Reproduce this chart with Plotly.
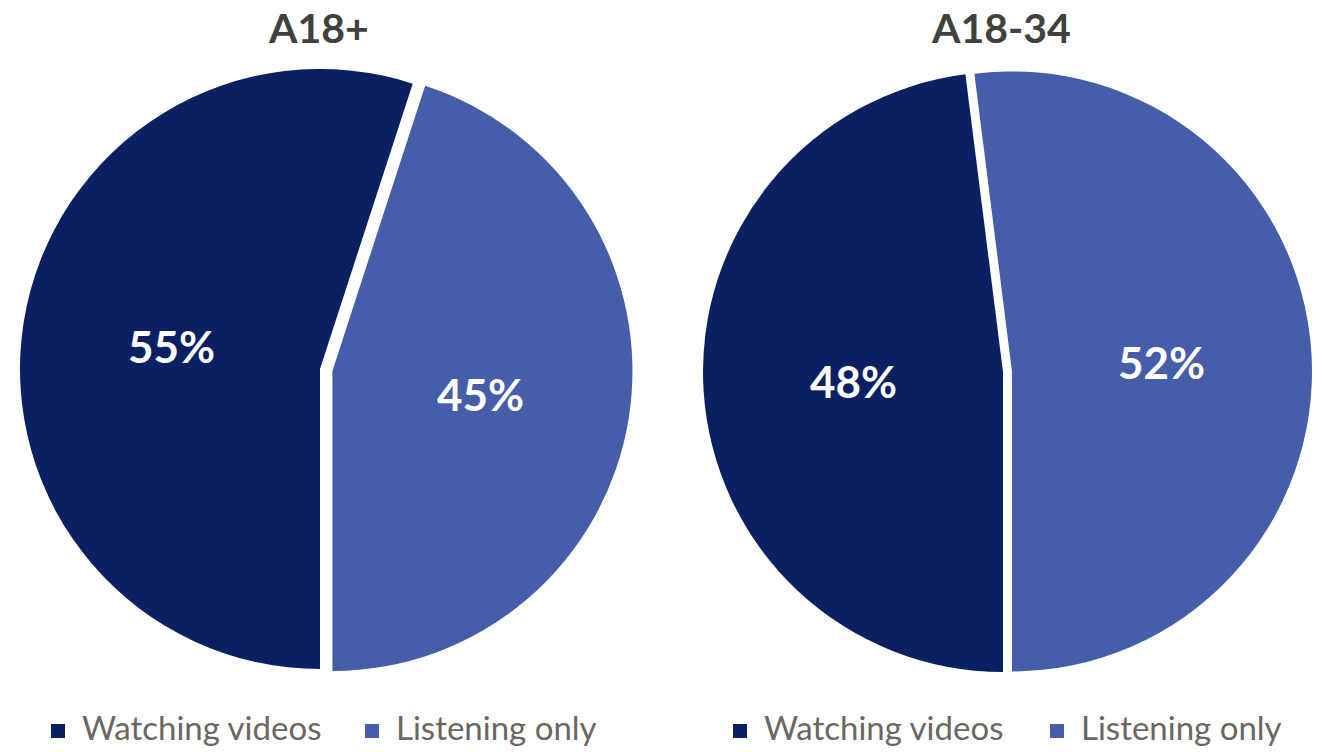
import math
import plotly.graph_objects as go

# Share of listeners by audience group
groups = ["A18+", "A18-34"]
labels = ["Watching videos", "Listening only"]
watching = [55, 48]
listening = [45, 52]
colors = ["#0B2062", "#465DA9"]

W, H = 1322, 752

# Pie layout in pixels: centre of each pie, common radius, pull of "Listening only"
centers = [(320, 369), (1003, 372)]
radius = 300
pulls = [0.042, 0.03]
rotation = 180

# Legend entry text start (px) for each pie's legend row
legend_text_x = [[80, 394], [762, 1079]]
legend_y = 731

fig = go.Figure()
annotations = []
shapes = []

for i, grp in enumerate(groups):
    cx, cy = centers[i]
    p = pulls[i]
    half = radius * (1 + p)
    dom_x = [(cx - half) / W, (cx + half) / W]
    dom_y = [1 - (cy + half) / H, 1 - (cy - half) / H]
    vals = [watching[i], listening[i]]

    fig.add_trace(go.Pie(
        labels=labels,
        values=vals,
        sort=False,
        direction="clockwise",
        rotation=rotation,
        pull=[0, p],
        marker=dict(colors=colors, line=dict(width=0)),
        textinfo="none",
        hoverinfo="label+percent",
        domain=dict(x=dom_x, y=dom_y),
        name=grp,
        showlegend=False,
    ))

    # value labels on the slice bisectors, halfway out
    total = sum(vals)
    start = rotation
    for j, v in enumerate(vals):
        span = v / total * 360
        theta = math.radians(start + span / 2)
        d = 0.5 * radius + ([0, p][j] * radius)
        x = cx + d * math.sin(theta)
        y = cy - d * math.cos(theta)
        annotations.append(dict(
            x=x / W, y=1 - y / H, xref="paper", yref="paper",
            text=f"<b>{v}%</b>", showarrow=False,
            font=dict(family="Lato", size=44, color="white"),
            xanchor="center", yanchor="middle",
        ))
        start += span

    # group title above each pie
    annotations.append(dict(
        x=(cx - 2) / W, y=1 - 27 / H, xref="paper", yref="paper",
        text=f"<b>{grp}</b>", showarrow=False,
        font=dict(family="Lato", size=41, color="#3F413C"),
        xanchor="center", yanchor="middle",
    ))

    # legend row under each pie: colour square + label
    for j, lab in enumerate(labels):
        tx = legend_text_x[i][j]
        shapes.append(dict(
            type="rect", xref="paper", yref="paper",
            x0=(tx - 29) / W, x1=(tx - 15) / W,
            y0=1 - (legend_y + 7) / H, y1=1 - (legend_y - 7) / H,
            fillcolor=colors[j], line=dict(width=0),
        ))
        annotations.append(dict(
            x=tx / W, y=1 - (legend_y - 4) / H, xref="paper", yref="paper",
            text=lab, showarrow=False,
            font=dict(family="Lato", size=33, color="#6B6661"),
            xanchor="left", yanchor="middle",
        ))

fig.update_layout(
    width=W,
    height=H,
    margin=dict(l=0, r=0, t=0, b=0),
    paper_bgcolor="white",
    plot_bgcolor="white",
    showlegend=False,
    annotations=annotations,
    shapes=shapes,
)

fig.write_html("out.html")
